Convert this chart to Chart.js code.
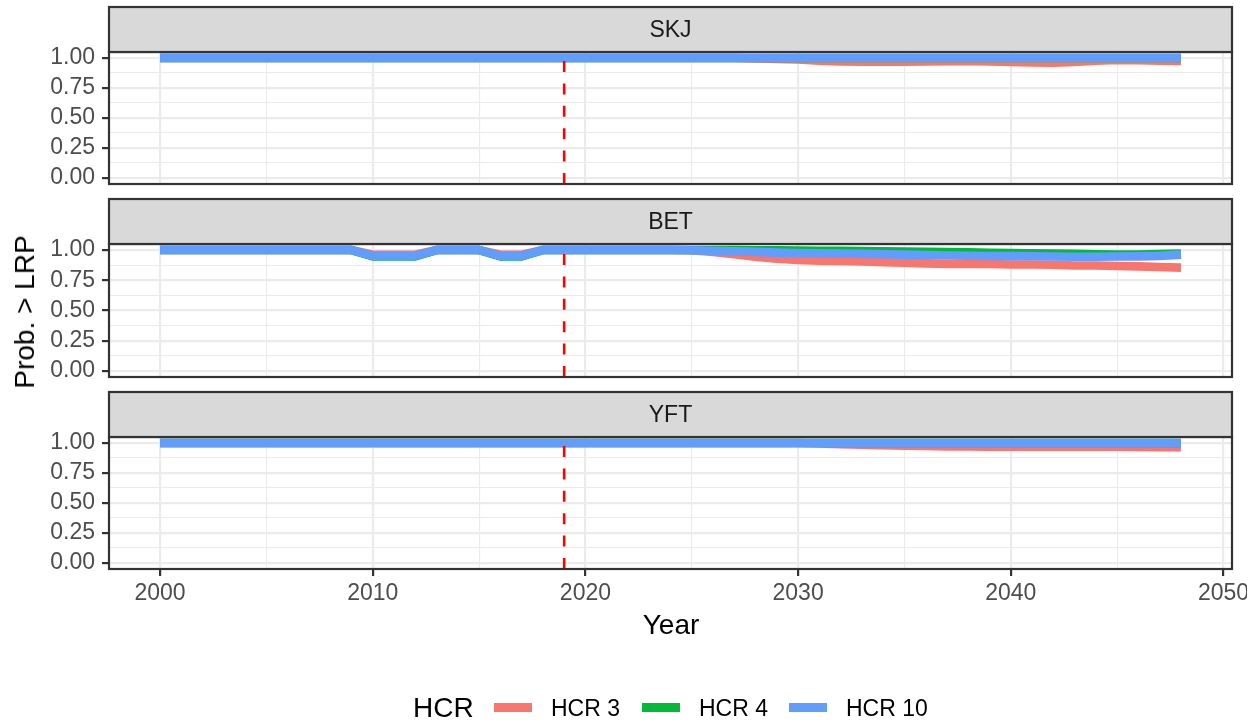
<!DOCTYPE html>
<html>
<head>
<meta charset="utf-8">
<script src="https://cdn.jsdelivr.net/npm/chart.js@4.4.0/dist/chart.umd.min.js"></script>
<style>
  body { margin: 0; background: #fff; }
  #wrap { position: relative; width: 1260px; height: 722px; background: #fff; font-family: "Liberation Sans", Arial, sans-serif; overflow: hidden; }
  #wrap canvas { position: absolute; left: 0; }
  .lbl { position: absolute; white-space: nowrap; line-height: 1; }
  .key { position: absolute; width: 38px; height: 9px; }
</style>
</head>
<body>
<div id="wrap">
  <canvas id="skj" width="1247" height="192" style="top:0px"></canvas>
  <canvas id="bet" width="1247" height="192" style="top:192px"></canvas>
  <canvas id="yft" width="1247" height="337" style="top:385px"></canvas>

  <div class="lbl" style="left:25px; top:312px; font-size:28px; color:#000; transform:translate(-50%,-50%) rotate(-90deg);">Prob. &gt; LRP</div>
  <div class="lbl" style="left:671px; top:625px; font-size:28px; color:#000; transform:translate(-50%,-50%);">Year</div>

  <!-- legend -->
  <div class="lbl" style="left:413px; top:708px; font-size:28px; color:#000; transform:translateY(-50%);">HCR</div>
  <div class="key" style="left:494px; top:703px; background:#F8766D;"></div>
  <div class="lbl" style="left:551px; top:708px; font-size:23px; color:#000; transform:translateY(-50%);">HCR 3</div>
  <div class="key" style="left:642px; top:703px; background:#00BA38;"></div>
  <div class="lbl" style="left:699px; top:708px; font-size:23px; color:#000; transform:translateY(-50%);">HCR 4</div>
  <div class="key" style="left:789px; top:703px; background:#619CFF;"></div>
  <div class="lbl" style="left:846px; top:708px; font-size:23px; color:#000; transform:translateY(-50%);">HCR 10</div>
</div>

<script>
// Years on the x axis
const years = [2000, 2001, 2002, 2003, 2004, 2005, 2006, 2007, 2008, 2009,
    2010, 2011, 2012, 2013, 2014, 2015, 2016, 2017, 2018, 2019,
    2020, 2021, 2022, 2023, 2024, 2025, 2026, 2027, 2028, 2029,
    2030, 2031, 2032, 2033, 2034, 2035, 2036, 2037, 2038, 2039,
    2040, 2041, 2042, 2043, 2044, 2045, 2046, 2047, 2048];

// start of the projection period
const projectionStart = 2019;

const hcrNames = ["HCR 3", "HCR 4", "HCR 10"];
const hcrColors = ["#F8766D", "#00BA38", "#619CFF"];

const xTicks = [2000, 2005, 2010, 2015, 2020, 2025, 2030, 2035, 2040, 2045, 2050];
const yTicks = [0, 0.125, 0.25, 0.375, 0.5, 0.625, 0.75, 0.875, 1];

// SKJ
const skjHcr3 = [1, 1, 1, 1, 1, 1, 1, 1, 1, 1,
    1, 1, 1, 1, 1, 1, 1, 1, 1, 1,
    1, 1, 1, 1, 1, 1, 1, 1, 0.996, 0.992,
    0.988, 0.978, 0.972, 0.970, 0.970, 0.970, 0.972, 0.974, 0.975, 0.972,
    0.967, 0.963, 0.960, 0.968, 0.978, 0.984, 0.982, 0.978, 0.975];
const skjHcr4 = [1, 1, 1, 1, 1, 1, 1, 1, 1, 1,
    1, 1, 1, 1, 1, 1, 1, 1, 1, 1,
    1, 1, 1, 1, 1, 1, 1, 1, 1, 1,
    1, 1, 1, 1, 1, 1, 1, 1, 1, 1,
    1, 1, 1, 1, 1, 1, 1, 1, 1];
const skjHcr10 = [1, 1, 1, 1, 1, 1, 1, 1, 1, 1,
    1, 1, 1, 1, 1, 1, 1, 1, 1, 1,
    1, 1, 1, 1, 1, 1, 1, 1, 1, 1,
    1, 1, 1, 1, 1, 1, 1, 1, 1, 1,
    1, 1, 1, 1, 1, 1, 1, 1, 1];

// BET
const betHcr3 = [1, 1, 1, 1, 1, 1, 1, 1, 1, 1,
    0.961, 0.961, 0.961, 1, 1, 1, 0.961, 0.961, 1, 1,
    1, 1, 1, 1, 1, 0.998, 0.985, 0.965, 0.945, 0.928,
    0.918, 0.912, 0.910, 0.905, 0.900, 0.895, 0.890, 0.885, 0.885, 0.884,
    0.880, 0.880, 0.878, 0.872, 0.872, 0.868, 0.865, 0.860, 0.855];
const betHcr4 = [1, 1, 1, 1, 1, 1, 1, 1, 1, 1,
    0.948, 0.948, 0.948, 1, 1, 1, 0.948, 0.948, 1, 1,
    1, 1, 1, 1, 1, 1, 1, 0.999, 0.998, 0.997,
    0.996, 0.994, 0.993, 0.992, 0.990, 0.988, 0.986, 0.984, 0.981, 0.978,
    0.975, 0.973, 0.971, 0.968, 0.965, 0.963, 0.963, 0.966, 0.972];
const betHcr10 = [1, 1, 1, 1, 1, 1, 1, 1, 1, 1,
    0.951, 0.951, 0.951, 1, 1, 1, 0.951, 0.951, 1, 1,
    1, 1, 1, 1, 1, 0.998, 0.994, 0.990, 0.985, 0.979,
    0.976, 0.973, 0.971, 0.968, 0.965, 0.962, 0.958, 0.955, 0.953, 0.951,
    0.950, 0.949, 0.947, 0.945, 0.945, 0.946, 0.948, 0.952, 0.962];

// YFT
const yftHcr3 = [1, 1, 1, 1, 1, 1, 1, 1, 1, 1,
    1, 1, 1, 1, 1, 1, 1, 1, 1, 1,
    1, 1, 1, 1, 1, 1, 1, 1, 1, 1,
    1, 0.996, 0.990, 0.986, 0.982, 0.978, 0.975, 0.972, 0.971, 0.970,
    0.970, 0.970, 0.970, 0.970, 0.970, 0.970, 0.968, 0.966, 0.964];
const yftHcr4 = [1, 1, 1, 1, 1, 1, 1, 1, 1, 1,
    1, 1, 1, 1, 1, 1, 1, 1, 1, 1,
    1, 1, 1, 1, 1, 1, 1, 1, 1, 1,
    1, 1, 1, 1, 1, 1, 1, 1, 1, 1,
    1, 1, 1, 1, 1, 1, 1, 1, 1];
const yftHcr10 = [1, 1, 1, 1, 1, 1, 1, 1, 1, 1,
    1, 1, 1, 1, 1, 1, 1, 1, 1, 1,
    1, 1, 1, 1, 1, 1, 1, 1, 1, 1,
    1, 1, 1, 1, 1, 1, 1, 1, 1, 1,
    1, 1, 1, 1, 1, 1, 1, 1, 1];

const FONT = "'Liberation Sans', Arial, sans-serif";
const STRIP_H = 45;

// strip on top, dashed projection line and the panel frame
const facetDecor = {
    id: 'facetDecor',
    afterDatasetsDraw(chart, args, opts) {
        const ctx = chart.ctx;
        const a = chart.chartArea;
        const x = chart.scales.x.getPixelForValue(projectionStart);

        ctx.save();
        ctx.strokeStyle = '#FF0000';
        ctx.lineWidth = 2.6;
        ctx.setLineDash([11, 11.4]);
        ctx.beginPath();
        ctx.moveTo(x, a.bottom);
        ctx.lineTo(x, a.top);
        ctx.stroke();
        ctx.restore();

        ctx.save();
        ctx.strokeStyle = '#333333';
        ctx.lineWidth = 2.2;
        ctx.strokeRect(a.left, a.top, a.right - a.left, a.bottom - a.top);

        ctx.fillStyle = '#D9D9D9';
        ctx.fillRect(a.left, a.top - STRIP_H, a.right - a.left, STRIP_H);
        ctx.strokeRect(a.left, a.top - STRIP_H, a.right - a.left, STRIP_H);

        ctx.fillStyle = '#1A1A1A';
        ctx.font = '23px ' + FONT;
        ctx.textAlign = 'center';
        ctx.textBaseline = 'middle';
        ctx.fillText(opts.title, (a.left + a.right) / 2, a.top - STRIP_H / 2 + 1);
        ctx.restore();
    }
};

function makePanel(id, title, series, showX, bottomPad) {
    const ctx = document.getElementById(id).getContext('2d');
    const datasets = series.map((vals, i) => ({
        label: hcrNames[i],
        data: years.map((y, j) => ({ x: y, y: vals[j] })),
        borderColor: hcrColors[i],
        backgroundColor: hcrColors[i],
        borderWidth: 8.6,
        borderJoinStyle: 'round',
        borderCapStyle: 'butt',
        pointRadius: 0,
        tension: 0,
        order: 3 - i // HCR 10 drawn last
    }));

    return new Chart(ctx, {
        type: 'line',
        data: { datasets: datasets },
        plugins: [facetDecor],
        options: {
            responsive: false,
            animation: false,
            layout: { padding: { top: 52, bottom: bottomPad, left: 0, right: 15 } },
            plugins: {
                legend: { display: false },
                tooltip: { enabled: false },
                facetDecor: { title: title }
            },
            scales: {
                x: {
                    type: 'linear',
                    min: 1997.6,
                    max: 2050.4,
                    afterBuildTicks: s => { s.ticks = xTicks.map(v => ({ value: v })); },
                    afterFit: s => {
                        s.paddingLeft = 0;
                        s.paddingRight = 0;
                        s.height = showX ? 40 : 0;
                    },
                    border: { display: false },
                    grid: {
                        color: '#EBEBEB',
                        lineWidth: c => (c.tick && c.tick.value % 10 === 0) ? 2.2 : 1.1,
                        drawTicks: showX,
                        tickLength: 7,
                        tickWidth: 2.2,
                        tickColor: c => (c.tick && c.tick.value % 10 === 0) ? '#333333' : 'rgba(0,0,0,0)'
                    },
                    ticks: {
                        display: showX,
                        autoSkip: false,
                        maxRotation: 0,
                        padding: 4,
                        color: '#4D4D4D',
                        font: { family: FONT, size: 23 },
                        callback: v => v % 10 === 0 ? String(v) : ''
                    }
                },
                y: {
                    min: -0.05,
                    max: 1.05,
                    afterBuildTicks: s => { s.ticks = yTicks.map(v => ({ value: v })); },
                    afterFit: s => {
                        s.width = 109;
                        s.paddingTop = 0;
                        s.paddingBottom = 0;
                    },
                    border: { display: false },
                    grid: {
                        color: '#EBEBEB',
                        lineWidth: c => (c.tick && Math.round(c.tick.value * 100) % 25 === 0) ? 2.2 : 1.1,
                        drawTicks: true,
                        tickLength: 7,
                        tickWidth: 2.2,
                        tickColor: c => (c.tick && Math.round(c.tick.value * 100) % 25 === 0) ? '#333333' : 'rgba(0,0,0,0)'
                    },
                    ticks: {
                        autoSkip: false,
                        padding: 7,
                        color: '#4D4D4D',
                        font: { family: FONT, size: 23 },
                        callback: v => Math.round(v * 100) % 25 === 0 ? v.toFixed(2) : ''
                    }
                }
            }
        }
    });
}

makePanel('skj', 'SKJ', [skjHcr3, skjHcr4, skjHcr10], false, 8);
makePanel('bet', 'BET', [betHcr3, betHcr4, betHcr10], false, 7);
makePanel('yft', 'YFT', [yftHcr3, yftHcr4, yftHcr10], true, 113);
</script>
</body>
</html>
